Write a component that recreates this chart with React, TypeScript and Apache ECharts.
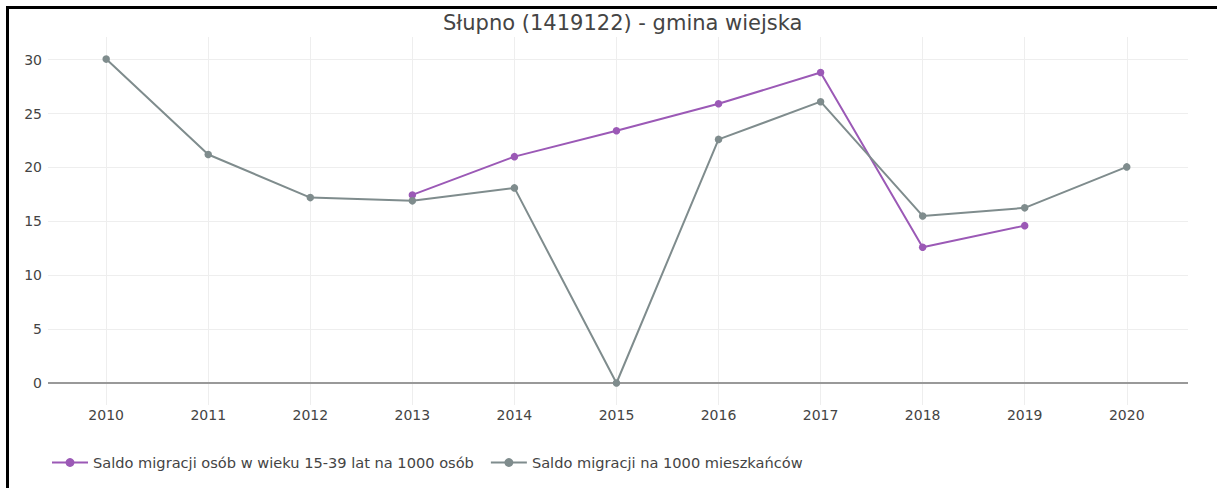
import React, { useEffect, useRef } from "react";
import * as echarts from "echarts";

const years = [2010, 2011, 2012, 2013, 2014, 2015, 2016, 2017, 2018, 2019, 2020];
const yTicks = [0, 5, 10, 15, 20, 25, 30];
const youthYears = [2013, 2014, 2015, 2016, 2017, 2018, 2019];
const youthValues = [17.45, 21.0, 23.4, 25.9, 28.8, 12.6, 14.6];
const allValues = [30.05, 21.2, 17.2, 16.9, 18.1, 0, 22.6, 26.1, 15.5, 16.25, 20.05];
const seriesNames = [
  "Saldo migracji osób w wieku 15-39 lat na 1000 osób",
  "Saldo migracji na 1000 mieszkańców",
];
const title = "Słupno (1419122) - gmina wiejska";

const FONT = "'DejaVu Sans', sans-serif";

export default function App() {
  const ref = useRef<HTMLDivElement>(null);
  useEffect(() => {
    if (!ref.current) return;
    const chart = echarts.init(ref.current, undefined, { renderer: "svg" });
    chart.setOption({
      animation: false,
      backgroundColor: "#fff",
      textStyle: { fontFamily: FONT },
      title: {
        text: title,
        left: 438,
        top: 7,
        textStyle: { fontFamily: FONT, fontSize: 21, fontWeight: "normal", color: "#444" },
      },
      graphic: [
        {
          type: "rect",
          shape: { x: 7.5, y: 7.5, width: 1260, height: 540 },
          style: { fill: "none", stroke: "#000", lineWidth: 3 },
          silent: true,
        },
      ],
      grid: { left: 48, right: 29, top: 37, bottom: 83 },
      legend: {
        left: 46,
        top: 450,
        itemWidth: 36,
        itemHeight: 11,
        itemGap: 16,
        textStyle: { fontFamily: FONT, fontSize: 14.6, color: "#444" },
        data: seriesNames,
      },
      xAxis: {
        type: "value",
        min: 2009.43,
        max: 2020.6,
        axisLine: { show: false },
        axisTick: { show: false, customValues: years },
        axisLabel: {
          customValues: years,
          formatter: (v: number) => String(Math.round(v)),
          color: "#444",
          fontSize: 14,
          fontFamily: FONT,
          margin: 3,
        },
        splitLine: { show: true, lineStyle: { color: "#eee", width: 1 } },
      },
      yAxis: {
        type: "value",
        min: -2.04,
        max: 32.1,
        axisLine: { show: false },
        axisTick: { show: false, customValues: yTicks },
        axisLabel: {
          customValues: yTicks,
          color: "#444",
          fontSize: 14,
          fontFamily: FONT,
          margin: 6,
        },
        splitLine: { show: true, lineStyle: { color: "#eee", width: 1 } },
      },
      series: [
        {
          name: seriesNames[0],
          type: "line",
          data: youthYears.map((y, i) => [y, youthValues[i]]),
          symbol: "circle",
          symbolSize: 7.5,
          itemStyle: { color: "#9b59b6" },
          lineStyle: { color: "#9b59b6", width: 2 },
          z: 3,
        },
        {
          name: seriesNames[1],
          type: "line",
          data: years.map((y, i) => [y, allValues[i]]),
          symbol: "circle",
          symbolSize: 7.5,
          itemStyle: { color: "#7f8c8d" },
          lineStyle: { color: "#7f8c8d", width: 2 },
          z: 4,
          markLine: {
            silent: true,
            symbol: "none",
            label: { show: false },
            lineStyle: { color: "#999", width: 2, type: "solid" },
            data: [{ yAxis: 0 }],
            z: 1,
          },
        },
      ],
    });
    return () => chart.dispose();
  }, []);
  return (
    <div
      ref={ref}
      style={{ position: "fixed", left: 0, top: 0, width: 1217, height: 488 }}
    />
  );
}
